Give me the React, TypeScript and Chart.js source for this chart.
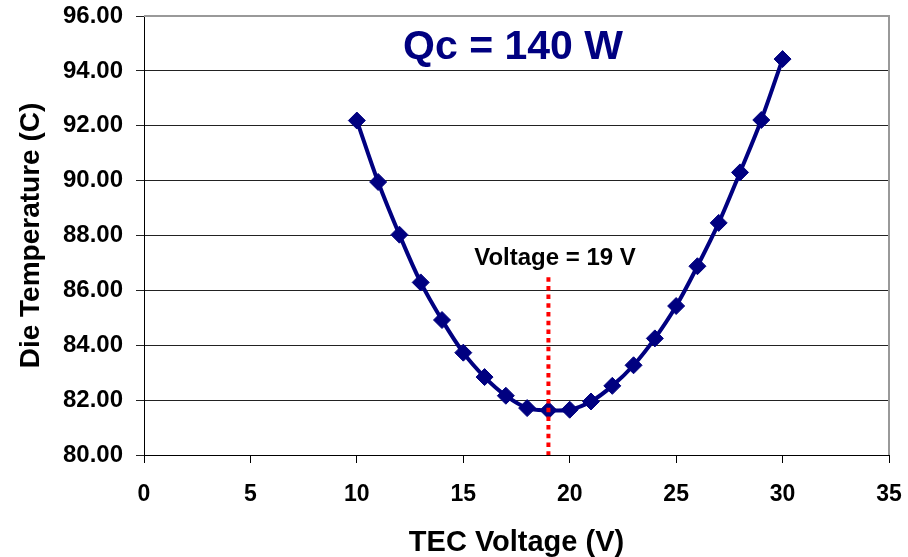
import React, { useEffect, useRef } from "react";
import { Chart, registerables } from "chart.js";

Chart.register(...registerables);

const voltages = [10, 11, 12, 13, 14, 15, 16, 17, 18, 19, 20, 21, 22, 23, 24, 25, 26, 27, 28, 29, 30];
const dieTemps = [92.19, 89.95, 88.03, 86.29, 84.92, 83.73, 82.84, 82.16, 81.71, 81.63, 81.65, 81.95, 82.52, 83.27, 84.25, 85.43, 86.88, 88.46, 90.3, 92.21, 94.43];
const optimumX = [19, 19];
const optimumY = [86.48, 80];
const chartTitle = "Qc = 140 W";
const optimumLabel = "Voltage = 19 V";
const xTitle = "TEC Voltage (V)";
const yTitle = "Die Temperature (C)";

const FONT = '"Liberation Sans", Arial, Helvetica, sans-serif';

const overlayPlugin = {
  id: "overlay",
  afterDraw(chart: any) {
    const { ctx, chartArea } = chart;
    ctx.save();
    ctx.strokeStyle = "#999999";
    ctx.lineWidth = 2;
    ctx.beginPath();
    ctx.moveTo(chartArea.left, chartArea.top);
    ctx.lineTo(chartArea.right, chartArea.top);
    ctx.lineTo(chartArea.right, chartArea.bottom);
    ctx.stroke();
    ctx.fillStyle = "#000080";
    ctx.font = `bold 41px ${FONT}`;
    ctx.textAlign = "center";
    ctx.textBaseline = "middle";
    ctx.fillText(chartTitle, 513, 48);
    ctx.fillStyle = "#000000";
    ctx.font = `bold 24px ${FONT}`;
    ctx.fillText(optimumLabel, 555, 258);
    ctx.restore();
  },
};

export default function App() {
  const ref = useRef<HTMLCanvasElement | null>(null);
  useEffect(() => {
    if (!ref.current) return;
    const chart = new Chart(ref.current, {
      type: "line",
      data: {
        datasets: [
          {
            label: "optimum",
            data: optimumX.map((x, i) => ({ x, y: optimumY[i] })),
            borderColor: "#ff0000",
            borderWidth: 4,
            borderDash: [4.5, 4.2],
            borderCapStyle: "butt",
            pointRadius: 0,
            fill: false,
            order: 0,
          },
          {
            label: "Die Temperature",
            data: voltages.map((x, i) => ({ x, y: dieTemps[i] })),
            borderColor: "#000080",
            backgroundColor: "#000080",
            borderWidth: 4,
            tension: 0.35,
            pointStyle: "rectRot",
            pointRadius: 8.5,
            pointBorderWidth: 1,
            pointBackgroundColor: "#000080",
            pointBorderColor: "#000080",
            fill: false,
            order: 1,
          },
        ],
      },
      options: {
        responsive: false,
        animation: false,
        layout: { padding: { top: 16, right: 19, left: 0, bottom: 0 } },
        plugins: {
          legend: { display: false },
          tooltip: { enabled: false },
          title: { display: false },
        },
        scales: {
          x: {
            type: "linear",
            min: 0,
            max: 35,
            ticks: {
              stepSize: 5,
              color: "#000",
              padding: 18,
              font: { family: FONT, size: 23, weight: "bold" },
            },
            grid: {
              drawOnChartArea: false,
              drawTicks: true,
              tickLength: 8,
              color: "#000",
            },
            border: { color: "#000", width: 1 },
            title: {
              display: true,
              text: xTitle,
              color: "#000",
              font: { family: FONT, size: 29, weight: "bold", lineHeight: 1 },
              padding: { top: 0, bottom: 0 },
            },
            afterFit(scale: any) {
              scale.height = 102;
              scale.paddingLeft = 0;
              scale.paddingRight = 0;
            },
          },
          y: {
            type: "linear",
            min: 80,
            max: 96,
            ticks: {
              stepSize: 2,
              color: "#000",
              padding: 13,
              font: { family: FONT, size: 24, weight: "bold" },
              callback: (v: any) => Number(v).toFixed(2),
            },
            grid: {
              drawTicks: true,
              tickLength: 8,
              color: "#222",
              lineWidth: 1,
            },
            border: { color: "#000", width: 1 },
            title: {
              display: true,
              text: yTitle,
              color: "#000",
              font: { family: FONT, size: 28, weight: "bold", lineHeight: 1 },
              padding: { top: 17, bottom: 0 },
            },
            afterFit(scale: any) {
              scale.width = 144;
              scale.paddingTop = 0;
              scale.paddingBottom = 0;
            },
          },
        },
      },
      plugins: [overlayPlugin],
    } as any);
    return () => chart.destroy();
  }, []);
  return (
    <div style={{ position: "fixed", left: 0, top: 0, width: 908, height: 557, background: "#fff" }}>
      <canvas ref={ref} width={908} height={557} style={{ display: "block" }} />
    </div>
  );
}
